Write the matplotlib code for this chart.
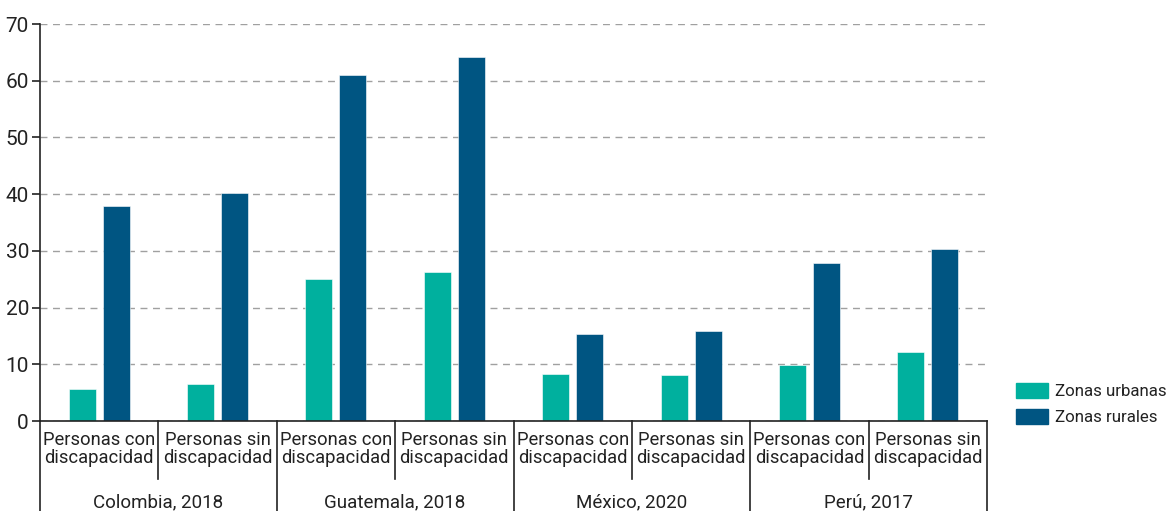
import numpy as np
import matplotlib
matplotlib.use('Agg')
import matplotlib.pyplot as plt
from matplotlib.patches import Patch

plt.rcParams['font.family'] = ['Roboto', 'DejaVu Sans']

countries = ['Colombia, 2018', 'Guatemala, 2018', 'México, 2020', 'Perú, 2017']
subgroups = ['Personas con\ndiscapacidad', 'Personas sin\ndiscapacidad']
urbanas = [5.6, 6.5, 25.0, 26.2, 8.3, 8.1, 9.9, 12.1]
rurales = [37.9, 40.2, 61.0, 64.1, 15.3, 15.9, 27.8, 30.3]
yticks = [0, 10, 20, 30, 40, 50, 60, 70]

c_urb = '#00B09E'
c_rur = '#005582'
txt = '#222222'

fig = plt.figure(figsize=(11.73, 5.11), dpi=100)
ax = fig.add_axes([40 / 1173, 90 / 511, 947 / 1173, 397 / 511])

x = np.arange(len(urbanas))
w = 0.228
off = 0.144
ax.bar(x - off, urbanas, w, color=c_urb, edgecolor='white', linewidth=0.4, zorder=2)
ax.bar(x + off, rurales, w, color=c_rur, edgecolor='white', linewidth=0.4, zorder=2)

ax.set_xlim(-0.5, len(urbanas) - 0.5)
ax.set_ylim(0, 70)
ax.set_yticks(yticks)
ax.tick_params(axis='y', labelsize=15, length=6, width=1.2, pad=2, colors=txt)
ax.set_xticks([])
ax.yaxis.grid(True, linestyle=(0, (5, 4)), color='#A0A0A0', linewidth=1, zorder=0)
ax.spines['top'].set_visible(False)
ax.spines['right'].set_visible(False)
for s in ['left', 'bottom']:
    ax.spines[s].set_linewidth(1.2)
    ax.spines[s].set_color(txt)
    ax.spines[s].set_zorder(4)

trans = ax.get_xaxis_transform()
# category labels
for i in x:
    ax.text(i, -0.024, subgroups[i % 2], transform=trans, ha='center', va='top',
            fontsize=13.2, linespacing=1.05, color=txt)
# separators
for i in range(len(urbanas) + 1):
    b = i - 0.5
    y0 = -0.227 if i % 2 == 0 else -0.145
    ax.plot([b, b], [0, y0], transform=trans, color=txt, linewidth=1.2, clip_on=False)
# country labels
for j, c in enumerate(countries):
    ax.text(2 * j + 0.5, -0.205, c, transform=trans, ha='center', va='center',
            fontsize=13.5, color=txt)

handles = [Patch(color=c_urb, label='Zonas urbanas'), Patch(color=c_rur, label='Zonas rurales')]
fig.legend(handles=handles, loc='center left', bbox_to_anchor=(1016 / 1173, 1 - 404 / 511),
           frameon=False, fontsize=12.2, handlelength=1.9, handleheight=1.0,
           handletextpad=0.4, labelspacing=0.6, labelcolor=txt,
           borderpad=0, borderaxespad=0)

fig.savefig('out.png', dpi=100)
